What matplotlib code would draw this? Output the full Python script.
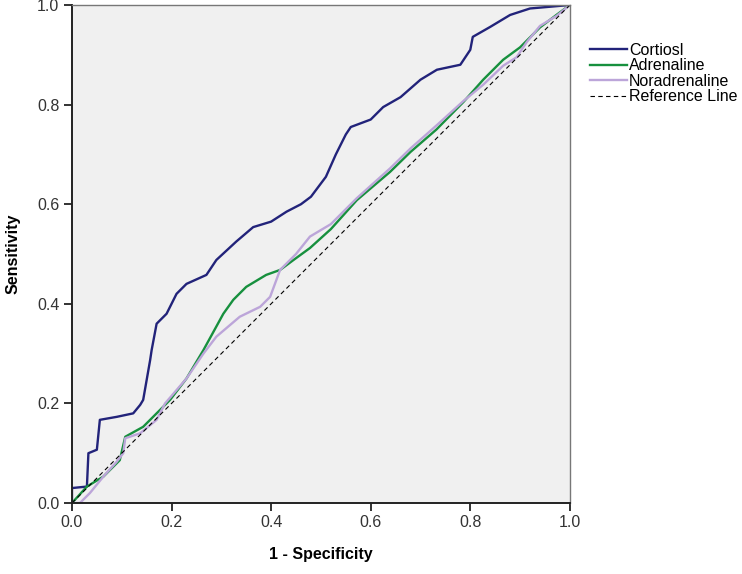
import numpy as np
import matplotlib.pyplot as plt

plt.rcParams['font.family'] = ['Liberation Sans', 'DejaVu Sans']

# ROC points (1 - specificity, sensitivity)
cort_x = [0, 0, 0.03, 0.033, 0.05, 0.056, 0.09, 0.123, 0.137, 0.143, 0.157, 0.16, 0.17, 0.19,
          0.21, 0.23, 0.27, 0.29, 0.33, 0.364, 0.40, 0.431, 0.46, 0.48, 0.51, 0.53, 0.55, 0.56,
          0.60, 0.625, 0.66, 0.70, 0.733, 0.78, 0.80, 0.805, 0.84, 0.88, 0.92, 1.0]
cort_y = [0, 0.03, 0.033, 0.10, 0.107, 0.167, 0.173, 0.18, 0.197, 0.207, 0.287, 0.307, 0.36, 0.38,
          0.42, 0.44, 0.458, 0.488, 0.525, 0.554, 0.565, 0.585, 0.60, 0.615, 0.655, 0.70, 0.74, 0.755,
          0.77, 0.795, 0.815, 0.85, 0.87, 0.88, 0.91, 0.936, 0.956, 0.98, 0.993, 1.0]

adr_x = [0, 0.03, 0.063, 0.096, 0.107, 0.143, 0.183, 0.197, 0.23, 0.264, 0.304, 0.324, 0.35,
         0.39, 0.418, 0.445, 0.478, 0.52, 0.572, 0.639, 0.68, 0.732, 0.786, 0.826, 0.866, 0.90,
         0.94, 0.973, 1.0]
adr_y = [0, 0.033, 0.053, 0.086, 0.133, 0.153, 0.193, 0.207, 0.25, 0.307, 0.38, 0.408, 0.434,
         0.458, 0.468, 0.488, 0.512, 0.55, 0.608, 0.665, 0.705, 0.75, 0.805, 0.85, 0.89, 0.915,
         0.955, 0.98, 1.0]

nor_x = [0, 0.016, 0.036, 0.063, 0.09, 0.103, 0.107, 0.137, 0.17, 0.187, 0.23, 0.264, 0.29,
         0.337, 0.378, 0.398, 0.418, 0.45, 0.478, 0.52, 0.572, 0.639, 0.68, 0.732, 0.786, 0.826,
         0.866, 0.893, 0.913, 0.94, 0.973, 1.0]
nor_y = [0, 0.0, 0.02, 0.053, 0.083, 0.10, 0.13, 0.14, 0.167, 0.2, 0.25, 0.30, 0.334,
         0.374, 0.394, 0.414, 0.468, 0.50, 0.535, 0.56, 0.612, 0.672, 0.712, 0.758, 0.807, 0.84,
         0.878, 0.895, 0.925, 0.958, 0.978, 1.0]

labels = ['Cortiosl', 'Adrenaline', 'Noradrenaline', 'Reference Line']
ticks = [0.0, 0.2, 0.4, 0.6, 0.8, 1.0]

fig = plt.figure(figsize=(7.42, 5.74), dpi=100)
ax = fig.add_axes([0.097, 0.1237, 0.671, 0.8676])
ax.set_facecolor('#f0f0f0')

ax.plot(cort_x, cort_y, color='#22237a', lw=1.7, label=labels[0])
ax.plot(adr_x, adr_y, color='#17903e', lw=1.7, label=labels[1])
ax.plot(nor_x, nor_y, color='#bca5d9', lw=1.7, label=labels[2])
ax.plot([0, 1], [0, 1], color='k', lw=0.8, ls=(0, (4, 3)), label=labels[3])

ax.set_xlim(0, 1)
ax.set_ylim(0, 1)
ax.set_xticks(ticks)
ax.set_yticks(ticks)
ax.set_xticklabels(['%.1f' % t for t in ticks])
ax.set_yticklabels(['%.1f' % t for t in ticks])
ax.tick_params(direction='out', length=6, width=1.3, labelsize=11.5, color='#222222',
               labelcolor='#333333', pad=3)

for s in ['left', 'bottom']:
    ax.spines[s].set_color('#222222')
    ax.spines[s].set_linewidth(1.4)
for s in ['top', 'right']:
    ax.spines[s].set_color('#777777')
    ax.spines[s].set_linewidth(1.0)

ax.set_xlabel('1 - Specificity', fontsize=11.5, fontweight='bold', labelpad=12)
ax.set_ylabel('Sensitivity', fontsize=11.5, fontweight='bold', labelpad=12)

fig.legend(loc='upper left', bbox_to_anchor=(590 / 742, 1 - 43 / 574), frameon=False,
           fontsize=11.5, handlelength=2.3, handletextpad=0.15, labelspacing=0.03,
           borderpad=0, borderaxespad=0)

fig.savefig('out.png', dpi=100)
